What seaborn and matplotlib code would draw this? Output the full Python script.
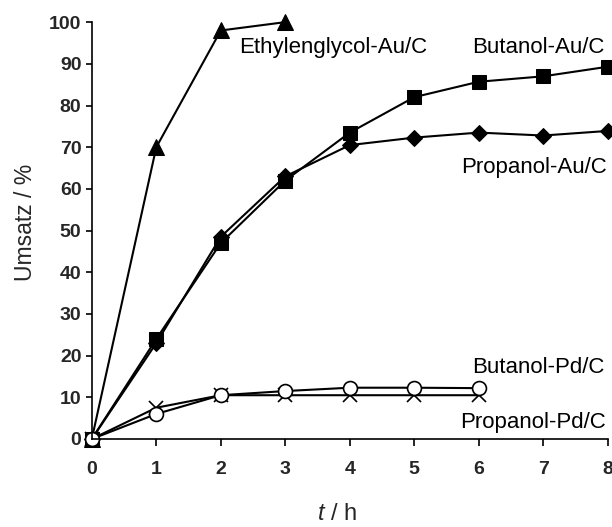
import matplotlib
matplotlib.use("Agg")
import matplotlib.pyplot as plt
import seaborn as sns
import pandas as pd

# Conversion (%) over reaction time (h)
t_ethylen = [0, 1, 2, 3]
ethylenglycol_au = [0, 70, 98, 100]

t_au = [0, 1, 2, 3, 4, 5, 6, 7, 8]
butanol_au = [0, 24, 47, 62, 73.5, 82, 85.7, 87, 89.3]
propanol_au = [0, 23, 48.5, 63, 70.5, 72.3, 73.5, 72.8, 73.9]

t_pd = [0, 1, 2, 3, 4, 5, 6]
butanol_pd = [0, 6, 10.5, 11.5, 12.3, 12.3, 12.2]
propanol_pd = [0, 7.5, 10.5, 10.5, 10.5, 10.5, 10.5]

x_ticks = [0, 1, 2, 3, 4, 5, 6, 7, 8]
y_ticks = [0, 10, 20, 30, 40, 50, 60, 70, 80, 90, 100]

sns.set_style("ticks")
plt.rcParams["font.family"] = ["Liberation Sans", "DejaVu Sans"]
plt.rcParams["mathtext.fontset"] = "custom"
plt.rcParams["mathtext.it"] = "Liberation Sans:italic"
plt.rcParams["mathtext.rm"] = "Liberation Sans"

fig = plt.figure(figsize=(6.12, 5.27), dpi=100)
ax = fig.add_axes([0.150, 0.167, 0.843, 0.791])

series = [
    (t_ethylen, ethylenglycol_au, dict(marker="^", markersize=11, markerfacecolor="black")),
    (t_au, propanol_au, dict(marker="D", markersize=8, markerfacecolor="black")),
    (t_au, butanol_au, dict(marker="s", markersize=10, markerfacecolor="black")),
    (t_pd, propanol_pd, dict(marker="x", markersize=10, markeredgewidth=1.2)),
    (t_pd, butanol_pd, dict(marker="o", markersize=10, markerfacecolor="white",
                            markeredgewidth=1.2)),
]
for t, y, style in series:
    df = pd.DataFrame({"t": t, "y": y})
    sns.lineplot(data=df, x="t", y="y", ax=ax, color="black", linewidth=1.5,
                 markeredgecolor="black", clip_on=False, **style)

ax.set_xlim(0, 8)
ax.set_ylim(0, 100)
ax.set_xticks(x_ticks)
ax.set_yticks(y_ticks)
ax.tick_params(axis="both", direction="out", width=1.2, labelsize=14, color="black")
ax.tick_params(axis="x", length=5, pad=11)
ax.tick_params(axis="y", length=4, pad=3.5)
for lab in ax.get_xticklabels() + ax.get_yticklabels():
    lab.set_fontweight("bold")
sns.despine(ax=ax)
for s in ("left", "bottom"):
    ax.spines[s].set_linewidth(1.2)
    ax.spines[s].set_color("black")

ax.set_xlabel("")
ax.set_ylabel("")
fig.text(26 / 612, 1 - 222 / 527, "Umsatz / %", fontsize=16.5, rotation=90,
         ha="center", va="center")
fig.text(337 / 612, 1 - 514 / 527, "$t$ / h", fontsize=17, ha="center", va="center")

lab_kw = dict(fontsize=16, color="black", va="baseline")
ax.text(2.29, 92.6, "Ethylenglycol-Au/C", ha="left", **lab_kw)
ax.text(7.95, 92.6, "Butanol-Au/C", ha="right", **lab_kw)
ax.text(7.99, 63.8, "Propanol-Au/C", ha="right", **lab_kw)
ax.text(7.95, 15.8, "Butanol-Pd/C", ha="right", **lab_kw)
ax.text(7.97, 2.6, "Propanol-Pd/C", ha="right", **lab_kw)

fig.savefig("out.png", dpi=100)
